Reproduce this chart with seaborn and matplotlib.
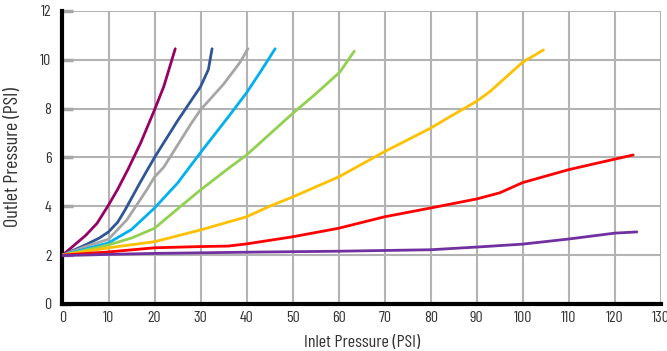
import numpy as np
import pandas as pd
import seaborn as sns
import matplotlib
matplotlib.use("Agg")
import matplotlib.pyplot as plt

# ---- data ----
maroon_x = [0, 5, 7.5, 10, 12, 14.2, 17, 20, 22, 24.5]
maroon_y = [2.0, 2.8, 3.3, 4.05, 4.7, 5.5, 6.6, 7.95, 8.9, 10.45]

navy_x = [0, 5, 8, 10, 12, 13.6, 16.8, 20, 25, 30, 31.7, 32.5]
navy_y = [2.0, 2.42, 2.7, 2.95, 3.35, 3.85, 4.95, 6.0, 7.5, 8.9, 9.6, 10.45]

gray_x = [0, 5, 10, 14, 18.3, 20, 22, 25, 28, 30, 35, 38.6, 40.3]
gray_y = [2.0, 2.35, 2.65, 3.45, 4.67, 5.2, 5.6, 6.5, 7.4, 7.95, 9.0, 9.9, 10.45]

cyan_x = [0, 5, 10, 15, 20, 25, 30, 36.4, 40, 43, 46.2]
cyan_y = [2.0, 2.25, 2.5, 3.05, 3.93, 4.95, 6.2, 7.75, 8.65, 9.5, 10.45]

green_x = [0, 5, 10, 15, 20, 25.5, 30, 36.4, 40, 50, 55, 60.3, 63.4]
green_y = [2.0, 2.2, 2.42, 2.7, 3.1, 3.97, 4.67, 5.6, 6.1, 7.8, 8.6, 9.5, 10.35]

yellow_x = [0, 10, 20, 30, 40, 45, 50, 60, 70, 80, 84.2, 90, 92.9, 100, 104.5]
yellow_y = [2.0, 2.3, 2.55, 3.03, 3.57, 4.0, 4.38, 5.2, 6.24, 7.2, 7.67, 8.3, 8.7, 9.9, 10.4]

red_x = [0, 10, 20, 30, 36, 40, 50, 60, 70, 80, 90, 95, 100, 110, 120, 124]
red_y = [2.0, 2.13, 2.3, 2.35, 2.37, 2.46, 2.75, 3.1, 3.57, 3.93, 4.3, 4.55, 4.97, 5.5, 5.93, 6.1]

purple_x = [0, 10, 20, 40, 60, 80, 90, 100, 110, 120, 124.8]
purple_y = [1.98, 2.03, 2.07, 2.12, 2.16, 2.22, 2.33, 2.45, 2.66, 2.9, 2.95]

series_names = ["maroon", "navy", "gray", "cyan", "green", "yellow", "red", "purple"]
series_x = [maroon_x, navy_x, gray_x, cyan_x, green_x, yellow_x, red_x, purple_x]
series_y = [maroon_y, navy_y, gray_y, cyan_y, green_y, yellow_y, red_y, purple_y]
colors = ["#990066", "#2f5597", "#a6a6a6", "#00b0f0", "#92d050", "#ffc000", "#ff0000", "#7030a0"]

x_ticks = list(range(0, 131, 10))
y_ticks = list(range(0, 13, 2))

rows = []
for name, xs, ys in zip(series_names, series_x, series_y):
    for xv, yv in zip(xs, ys):
        rows.append({"series": name, "x": xv, "y": yv})
df = pd.DataFrame(rows)

sns.set_theme(style="white")
plt.rcParams["font.family"] = ["Barlow Condensed", "Sofia Sans Condensed", "DejaVu Sans"]

fig = plt.figure(figsize=(6.67, 3.51), dpi=100)
ax = fig.add_axes([0.0937, 0.134, 0.897, 0.835])

sns.lineplot(data=df, x="x", y="y", hue="series", hue_order=series_names,
             palette=dict(zip(series_names, colors)), sort=False,
             linewidth=2.0, legend=False, ax=ax, zorder=3)

ax.set_xlim(0, 130)
ax.set_ylim(0, 12)
ax.set_xticks(x_ticks)
ax.set_yticks(y_ticks)
ax.grid(True, color="#b3b3b3", linewidth=1.5, zorder=0)
ax.set_axisbelow(True)

for s in ["top", "right"]:
    ax.spines[s].set_visible(False)
ax.spines["left"].set_color("black")
ax.spines["left"].set_linewidth(3)
ax.spines["bottom"].set_color("black")
ax.spines["bottom"].set_linewidth(3)

ax.tick_params(axis="y", which="major", direction="in", length=8, width=2.5,
               color="#a8a8a8", labelsize=11.5, labelcolor="#333333", pad=8, left=True)
ax.tick_params(axis="x", which="major", length=0, labelsize=11.5,
               labelcolor="#333333", pad=5)

ax.set_xlabel("Inlet Pressure (PSI)", fontsize=13, color="#333333", labelpad=7)
ax.set_ylabel("Outlet Pressure (PSI)", fontsize=14.5, color="#333333", labelpad=13)

fig.savefig("out.png", dpi=100)
